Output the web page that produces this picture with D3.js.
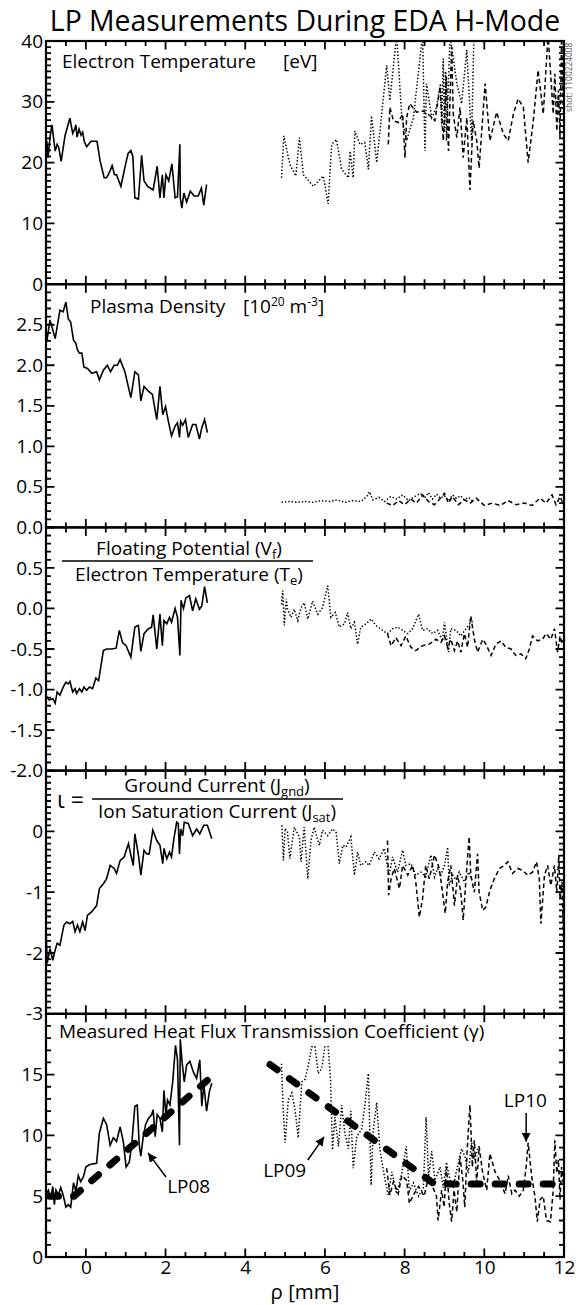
<!DOCTYPE html>
<html>
<head>
<meta charset="utf-8">
<script src="https://cdn.jsdelivr.net/npm/d3@7"></script>
<style>
body { margin: 0; background: #fff; }
svg text { font-family: "Open Sans", sans-serif; fill: #000; }
</style>
</head>
<body>
<div id="chart"></div>
<script>
// 1: DATA  (rho [mm], value); LP08 solid, LP09 dotted, LP10 dashed
const te08 = [[-0.98,23.6],[-0.95,20.8],[-0.90,24.1],[-0.85,26.2],[-0.77,21.9],[-0.72,23.0],[-0.68,22.5],[-0.62,20.2],[-0.52,24.5],[-0.40,27.3],[-0.33,24.8],[-0.28,25.5],[-0.25,26.2],[-0.22,24.2],[-0.17,25.5],[-0.12,24.5],[-0.08,25.0],[-0.04,23.5],[0.02,22.6],[0.13,23.5],[0.28,23.5],[0.36,20.2],[0.46,17.5],[0.52,17.5],[0.60,18.5],[0.66,19.5],[0.72,18.0],[0.77,18.0],[0.88,16.1],[0.99,19.5],[1.06,21.5],[1.13,22.0],[1.18,21.0],[1.23,14.2],[1.32,14.0],[1.40,21.2],[1.46,17.0],[1.55,16.1],[1.69,15.5],[1.79,19.4],[1.86,14.2],[1.92,18.0],[1.96,14.2],[2.01,18.0],[2.08,17.0],[2.16,19.8],[2.24,14.2],[2.30,14.4],[2.36,23.0],[2.37,14.2],[2.41,12.5],[2.46,15.0],[2.53,13.5],[2.62,15.3],[2.72,14.5],[2.82,14.5],[2.90,15.8],[2.96,13.0],[3.03,16.4]];
const te09 = [[4.91,17.5],[4.97,24.4],[5.12,19.7],[5.27,17.8],[5.36,24.1],[5.46,18.0],[5.71,16.1],[5.96,17.8],[6.08,13.2],[6.17,23.0],[6.29,23.8],[6.42,18.9],[6.59,17.5],[6.63,21.9],[6.71,17.5],[6.75,25.2],[6.88,23.0],[7.00,23.3],[7.09,18.9],[7.17,27.7],[7.30,20.0],[7.55,36.0],[7.63,30.2],[7.80,41],[7.93,27.4],[8.05,23.6],[8.22,27.4],[8.45,41],[8.51,21.9],[8.55,33.0],[8.68,27.4],[8.80,29.1],[8.90,33.0],[8.93,26.0],[8.97,37.1],[9.00,25.0],[9.03,35.0],[9.05,23.6],[9.14,41],[9.31,33.0],[9.43,29.7],[9.56,38.5],[9.68,23.6],[9.74,41]];
const te10 = [[7.59,23.0],[7.63,29.1],[7.72,26.9],[7.84,26.6],[7.95,28.0],[8.01,20.8],[8.05,27.4],[8.13,29.7],[8.30,28.3],[8.47,28.5],[8.64,27.7],[8.76,26.9],[8.89,32.4],[8.97,23.6],[9.05,34.1],[9.10,21.9],[9.18,39.1],[9.22,28.0],[9.31,24.1],[9.39,29.1],[9.47,20.8],[9.56,27.4],[9.64,15.5],[9.72,26.9],[9.81,23.6],[9.87,19.1],[10.02,33.0],[10.14,23.6],[10.31,28.3],[10.48,24.7],[10.60,23.6],[10.73,28.0],[10.85,30.5],[10.98,29.1],[11.10,20.0],[11.23,26.9],[11.35,35.2],[11.48,28.0],[11.60,41],[11.73,28.0],[11.77,34.6],[11.82,25.2],[11.86,31.9],[11.90,24.1],[11.94,41],[11.98,29.1]];

const ne08 = [[-0.98,2.29],[-0.90,2.56],[-0.77,2.33],[-0.65,2.68],[-0.57,2.66],[-0.50,2.78],[-0.44,2.57],[-0.38,2.53],[-0.31,2.31],[-0.25,2.27],[-0.21,2.19],[-0.16,2.15],[-0.10,2.15],[-0.05,1.98],[0.04,1.96],[0.15,1.90],[0.27,1.92],[0.34,1.82],[0.44,1.94],[0.54,2.00],[0.62,1.92],[0.71,2.00],[0.79,2.00],[0.86,2.07],[0.98,1.92],[1.13,1.60],[1.23,1.92],[1.32,1.88],[1.38,1.56],[1.46,1.74],[1.57,1.68],[1.67,1.64],[1.78,1.33],[1.86,1.74],[1.93,1.39],[2.00,1.49],[2.07,1.31],[2.15,1.13],[2.24,1.25],[2.30,1.29],[2.35,1.11],[2.38,1.31],[2.43,1.26],[2.50,1.33],[2.57,1.11],[2.68,1.27],[2.76,1.27],[2.85,1.09],[2.91,1.23],[2.98,1.33],[3.05,1.17]];
const ne09 = [[4.91,0.31],[5.10,0.32],[5.30,0.31],[5.50,0.32],[5.70,0.31],[5.90,0.33],[6.10,0.32],[6.30,0.34],[6.50,0.31],[6.70,0.33],[6.90,0.32],[7.05,0.38],[7.12,0.44],[7.20,0.34],[7.35,0.37],[7.50,0.32],[7.65,0.38],[7.80,0.35],[7.95,0.40],[8.10,0.33],[8.25,0.38],[8.40,0.42],[8.50,0.36],[8.60,0.43],[8.70,0.35],[8.80,0.41],[8.90,0.36],[9.00,0.39],[9.10,0.33],[9.20,0.40],[9.30,0.36],[9.40,0.39],[9.50,0.34],[9.60,0.37],[9.70,0.33]];
const ne10 = [[7.55,0.30],[7.70,0.27],[7.85,0.33],[8.00,0.28],[8.15,0.35],[8.30,0.30],[8.45,0.40],[8.60,0.32],[8.75,0.28],[8.90,0.36],[9.00,0.42],[9.10,0.30],[9.20,0.38],[9.35,0.28],[9.50,0.34],[9.65,0.30],[9.80,0.36],[10.00,0.27],[10.20,0.30],[10.40,0.27],[10.60,0.33],[10.80,0.28],[11.00,0.30],[11.20,0.27],[11.40,0.36],[11.55,0.30],[11.70,0.40],[11.80,0.28],[11.90,0.38],[11.97,0.30]];

const vf08 = [[-0.98,-1.09],[-0.92,-1.13],[-0.83,-1.11],[-0.77,-1.17],[-0.72,-1.03],[-0.65,-1.07],[-0.57,-0.97],[-0.50,-0.91],[-0.44,-0.93],[-0.40,-0.90],[-0.33,-1.03],[-0.27,-0.99],[-0.23,-1.05],[-0.16,-0.99],[-0.10,-1.03],[-0.05,-0.97],[0.02,-1.01],[0.09,-0.97],[0.17,-0.99],[0.25,-0.86],[0.32,-0.89],[0.44,-0.52],[0.52,-0.50],[0.65,-0.50],[0.76,-0.49],[0.84,-0.27],[0.92,-0.42],[1.01,-0.46],[1.13,-0.60],[1.23,-0.23],[1.32,-0.21],[1.38,-0.53],[1.46,-0.31],[1.57,-0.25],[1.65,-0.23],[1.69,-0.08],[1.78,-0.50],[1.86,-0.07],[1.92,-0.46],[1.96,-0.15],[2.03,-0.19],[2.10,-0.11],[2.15,-0.17],[2.24,0.00],[2.30,-0.11],[2.36,-0.58],[2.39,0.10],[2.45,0.00],[2.51,0.13],[2.60,0.16],[2.68,-0.03],[2.76,0.12],[2.85,-0.01],[2.91,0.03],[2.98,0.27],[3.05,0.07]];
const vf09 = [[4.91,0.05],[4.94,0.22],[4.98,-0.21],[5.03,0.12],[5.06,-0.01],[5.15,-0.11],[5.23,-0.01],[5.32,-0.15],[5.40,0.01],[5.48,0.07],[5.57,-0.13],[5.69,0.09],[5.82,-0.07],[5.94,0.01],[6.07,0.28],[6.15,-0.11],[6.26,-0.05],[6.36,-0.23],[6.49,-0.19],[6.57,-0.05],[6.65,-0.25],[6.74,-0.17],[6.82,-0.44],[6.90,-0.23],[7.03,-0.19],[7.16,-0.13],[7.28,-0.21],[7.45,-0.27],[7.57,-0.31],[7.70,-0.25],[7.82,-0.23],[7.95,-0.27],[8.08,-0.31],[8.20,-0.25],[8.35,-0.07],[8.45,-0.27],[8.58,-0.25],[8.70,-0.31],[8.83,-0.27],[8.95,-0.40],[9.00,-0.17],[9.10,-0.54],[9.16,-0.25],[9.29,-0.27],[9.41,-0.34],[9.54,-0.25],[9.66,-0.17],[9.75,-0.15]];
const vf10 = [[7.57,-0.31],[7.66,-0.46],[7.78,-0.36],[7.91,-0.46],[8.03,-0.34],[8.16,-0.48],[8.28,-0.52],[8.45,-0.46],[8.62,-0.44],[8.79,-0.38],[8.91,-0.42],[9.00,-0.34],[9.08,-0.48],[9.16,-0.38],[9.25,-0.52],[9.33,-0.40],[9.41,-0.54],[9.50,-0.31],[9.58,-0.48],[9.66,-0.09],[9.75,-0.38],[9.83,-0.54],[9.96,-0.38],[10.04,-0.44],[10.17,-0.58],[10.29,-0.44],[10.42,-0.40],[10.54,-0.48],[10.67,-0.50],[10.79,-0.58],[10.92,-0.56],[11.04,-0.62],[11.13,-0.50],[11.21,-0.34],[11.34,-0.40],[11.46,-0.38],[11.55,-0.31],[11.67,-0.38],[11.76,-0.25],[11.84,-0.54],[11.90,-0.34],[11.97,-0.46]];

const io08 = [[-1.00,-1.60],[-0.97,-2.17],[-0.90,-1.93],[-0.83,-2.12],[-0.77,-1.95],[-0.72,-1.84],[-0.65,-1.87],[-0.55,-1.54],[-0.48,-1.49],[-0.40,-1.52],[-0.33,-1.48],[-0.27,-1.65],[-0.21,-1.54],[-0.15,-1.65],[-0.08,-1.49],[-0.02,-1.63],[0.04,-1.38],[0.15,-1.32],[0.27,-1.22],[0.34,-0.94],[0.44,-0.86],[0.52,-0.78],[0.61,-0.56],[0.71,-0.61],[0.77,-0.69],[0.86,-0.48],[0.96,-0.42],[1.07,-0.20],[1.13,-0.39],[1.19,-0.56],[1.23,-0.04],[1.32,-0.39],[1.38,-0.72],[1.46,-0.31],[1.53,-0.37],[1.59,-0.37],[1.68,0.02],[1.78,-0.15],[1.86,-0.23],[1.93,-0.53],[1.96,-0.28],[2.03,-0.45],[2.10,-0.34],[2.15,-0.42],[2.21,-0.12],[2.28,0.15],[2.32,0.13],[2.35,-0.37],[2.38,0.04],[2.43,-0.07],[2.47,0.15],[2.57,0.13],[2.68,-0.07],[2.78,0.04],[2.86,-0.04],[2.96,0.10],[3.05,0.10],[3.16,-0.12]];
const io09 = [[4.92,0.10],[4.96,-0.48],[5.00,0.05],[5.06,-0.01],[5.12,-0.45],[5.23,0.07],[5.36,-0.09],[5.40,-0.50],[5.48,0.07],[5.57,-0.78],[5.65,-0.15],[5.73,0.07],[5.86,-0.23],[5.94,0.02],[6.07,-0.07],[6.19,0.04],[6.28,-0.01],[6.36,-0.53],[6.45,-0.23],[6.53,-0.26],[6.65,-0.09],[6.74,-0.72],[6.82,-0.34],[6.90,-0.56],[7.03,-0.50],[7.11,-0.56],[7.24,-0.34],[7.36,-0.45],[7.49,-0.28],[7.61,-0.72],[7.70,-0.42],[7.82,-0.67],[7.95,-0.31],[8.03,-0.56],[8.16,-0.53],[8.28,-0.72],[8.41,-0.67],[8.53,-0.75],[8.66,-0.39],[8.75,-0.75],[8.83,-0.61],[8.91,-0.72],[9.00,-0.56],[9.08,-0.26],[9.12,-0.89],[9.21,-0.72],[9.29,-0.80],[9.37,-0.67],[9.50,-0.83],[9.61,-0.67],[9.69,-0.80]];
const io10 = [[7.57,-0.15],[7.60,-1.05],[7.66,-0.78],[7.74,-0.61],[7.87,-0.94],[7.95,-0.56],[8.08,-0.72],[8.20,-0.56],[8.28,-0.83],[8.37,-1.41],[8.45,-1.11],[8.53,-0.56],[8.62,-0.78],[8.75,-0.39],[8.87,-0.61],[8.95,-1.00],[9.02,-1.35],[9.08,-0.83],[9.16,-0.56],[9.25,-1.22],[9.33,-0.72],[9.41,-1.00],[9.47,-1.46],[9.54,-0.78],[9.62,-0.09],[9.66,-0.72],[9.75,-1.00],[9.83,-0.37],[9.87,-1.00],[9.96,-1.30],[10.04,-1.24],[10.14,-0.97],[10.25,-0.78],[10.38,-0.61],[10.50,-0.56],[10.59,-0.50],[10.71,-0.69],[10.84,-0.61],[10.96,-0.64],[11.09,-0.72],[11.21,-0.67],[11.31,-0.50],[11.38,-0.78],[11.42,-1.52],[11.51,-0.72],[11.59,-0.56],[11.67,-0.89],[11.76,-0.56],[11.82,-1.00],[11.87,-0.39],[11.90,-1.11],[11.95,-0.83],[11.99,-1.82]];

const gm08 = [[-1.00,5.1],[-0.94,5.5],[-0.88,4.8],[-0.83,5.8],[-0.79,4.3],[-0.75,5.5],[-0.69,5.1],[-0.63,5.7],[-0.57,5.1],[-0.50,4.1],[-0.44,4.3],[-0.38,4.1],[-0.31,6.1],[-0.25,5.4],[-0.19,6.7],[-0.13,6.2],[-0.06,6.6],[0.00,7.4],[0.10,7.6],[0.27,7.7],[0.34,10.2],[0.44,11.4],[0.52,10.9],[0.61,9.2],[0.69,9.8],[0.77,9.5],[0.86,10.7],[0.94,9.5],[1.01,7.4],[1.09,7.8],[1.15,9.2],[1.23,12.4],[1.29,12.5],[1.34,9.2],[1.38,8.3],[1.44,9.9],[1.50,10.9],[1.57,11.4],[1.65,11.7],[1.69,12.1],[1.74,9.9],[1.79,11.7],[1.86,11.4],[1.92,10.3],[1.96,13.7],[2.01,11.7],[2.05,12.9],[2.11,12.5],[2.18,14.4],[2.25,17.4],[2.30,16.2],[2.35,9.2],[2.37,17.9],[2.42,15.9],[2.47,14.4],[2.53,15.8],[2.61,16.1],[2.70,15.2],[2.78,14.7],[2.86,16.2],[2.91,12.4],[2.96,14.2],[3.03,12.0],[3.10,13.6],[3.16,14.3]];
const gm09 = [[4.91,15.9],[4.95,12.4],[5.00,9.4],[5.08,12.9],[5.17,13.5],[5.25,12.1],[5.33,9.8],[5.42,14.4],[5.50,14.6],[5.58,15.7],[5.67,17.3],[5.75,17.3],[5.83,15.1],[5.92,15.5],[6.00,17.3],[6.08,17.3],[6.14,14.6],[6.19,8.8],[6.25,11.5],[6.34,9.1],[6.42,12.5],[6.50,10.2],[6.59,8.9],[6.65,12.0],[6.71,7.3],[6.80,9.9],[6.92,10.5],[7.00,12.4],[7.09,15.1],[7.16,5.9],[7.21,10.3],[7.30,12.7],[7.38,8.8],[7.51,6.3],[7.59,5.1],[7.68,7.0],[7.80,5.2],[7.93,6.9],[8.04,9.1],[8.12,5.4],[8.22,6.1],[8.35,5.0],[8.47,5.7],[8.54,11.5],[8.60,6.6],[8.68,8.7],[8.76,6.3],[8.89,7.4],[8.97,5.7],[9.05,7.8],[9.14,6.3],[9.22,5.8],[9.31,7.2],[9.43,8.9],[9.51,8.3],[9.60,6.9],[9.68,9.4],[9.76,8.0],[9.85,9.1]];
const gm10 = [[7.55,7.3],[7.63,5.1],[7.72,6.2],[7.84,5.2],[7.93,6.7],[8.05,6.3],[8.12,4.4],[8.22,5.1],[8.35,5.8],[8.49,5.0],[8.60,6.6],[8.70,5.8],[8.80,5.0],[8.84,3.0],[8.93,5.5],[8.99,4.1],[9.05,7.4],[9.12,4.4],[9.18,2.9],[9.24,5.5],[9.31,3.7],[9.39,8.3],[9.46,6.3],[9.51,4.1],[9.57,8.8],[9.64,12.5],[9.70,7.4],[9.75,9.6],[9.81,6.1],[9.87,9.1],[9.96,6.9],[10.06,5.5],[10.14,8.5],[10.27,7.0],[10.39,6.3],[10.52,5.2],[10.60,6.7],[10.69,5.2],[10.77,5.5],[10.88,5.0],[10.98,5.5],[11.05,7.4],[11.10,9.4],[11.19,6.6],[11.27,5.0],[11.33,2.9],[11.40,4.7],[11.48,5.0],[11.56,3.0],[11.66,2.9],[11.73,5.5],[11.77,9.6],[11.82,6.9],[11.86,8.0],[11.90,4.7],[11.94,7.4],[11.98,6.1]];

// model fits drawn as thick dashes in the gamma panel
const fit08 = [[-1,5],[-0.3,5],[3.25,15.1]];
const fit10 = [[4.55,16],[8.75,6],[12,6]];

// probe annotations in gamma panel: label position and arrow tail -> head
const probeNames = ["LP08", "LP09", "LP10"];
const probeLabelPos = [[2.04,5.27],[4.45,6.58],[10.49,12.35]];
const probeArrows = [[[2.01,6.58],[1.56,8.56]],[[5.57,7.98],[5.98,9.88]],[[11.05,11.85],[11.05,9.47]]];

// y tick labels per panel
const teTicks = [0,10,20,30,40];
const neTicks = [0,0.5,1,1.5,2,2.5];
const vfTicks = [-2,-1.5,-1,-0.5,0,0.5];
const ioTicks = [-3,-2,-1,0];
const gmTicks = [0,5,10,15];
const xTicks = [0,2,4,6,8,10,12];

// 2: LAYOUT
const W = 576, H = 1305;
const margin = { top: 41, right: 12, bottom: 48, left: 46 };
const width = W - margin.left - margin.right;
const plotH = H - margin.top - margin.bottom;
const panelH = plotH / 5;

const svg = d3.select("#chart")
    .append("svg")
    .attr("width", W)
    .attr("height", H);

const x = d3.scaleLinear().domain([-1, 12]).range([0, width]);

const lineStyles = [
    { dash: null, w: 1.6 },
    { dash: "1.4,2", w: 1.5 },
    { dash: "4.5,3", w: 1.5 }
];

const panels = [
    { series: [te08, te09, te10], domain: [0, 40], ticks: teTicks, minor: 1, fmt: d => String(d) },
    { series: [ne08, ne09, ne10], domain: [0, 3], ticks: neTicks, minor: 0.1, fmt: d => d.toFixed(1) },
    { series: [vf08, vf09, vf10], domain: [-2, 1], ticks: vfTicks, minor: 0.1, fmt: d => d.toFixed(1) },
    { series: [io08, io09, io10], domain: [-3, 1], ticks: ioTicks, minor: 0.1, fmt: d => String(d) },
    { series: [gm08, gm09, gm10], domain: [0, 20], ticks: gmTicks, minor: 1, fmt: d => String(d) }
];

const xMajor = [0, 2, 4, 6, 8, 10];
const xMinor = d3.range(-0.5, 12, 0.5);

// Title
svg.append("text")
    .attr("x", 305)
    .attr("y", 31)
    .attr("text-anchor", "middle")
    .style("font-size", "28.4px")
    .text("LP Measurements During EDA H-Mode");

// inward tick marks along one side, built as one path
function tickPath(values, scale, side, len) {
    const tp = d3.path();
    values.forEach(v => {
        const s = scale(v);
        if (side === "left") { tp.moveTo(0, s); tp.lineTo(len, s); }
        if (side === "right") { tp.moveTo(width, s); tp.lineTo(width - len, s); }
        if (side === "top") { tp.moveTo(s, 0); tp.lineTo(s, len); }
        if (side === "bottom") { tp.moveTo(s, panelH); tp.lineTo(s, panelH - len); }
    });
    return tp.toString();
}

const yScales = [];

panels.forEach((cfg, i) => {
    const g = svg.append("g")
        .attr("transform", `translate(${margin.left},${margin.top + i * panelH})`);

    const y = d3.scaleLinear().domain(cfg.domain).range([panelH, 0]);
    yScales.push({ g, y, cfg });

    g.append("clipPath").attr("id", "clip" + i)
        .append("rect").attr("width", width).attr("height", panelH);

    const line = d3.line().x(d => x(d[0])).y(d => y(d[1]));

    const plot = g.append("g").attr("clip-path", `url(#clip${i})`);
    cfg.series.forEach((s, k) => {
        plot.append("path")
            .datum(s)
            .attr("fill", "none")
            .attr("stroke", "#000")
            .attr("stroke-width", lineStyles[k].w)
            .attr("stroke-dasharray", lineStyles[k].dash)
            .attr("d", line);
    });

    // frame
    g.append("rect")
        .attr("width", width)
        .attr("height", panelH)
        .attr("fill", "none")
        .attr("stroke", "#000")
        .attr("stroke-width", 2.2);

    // y tick labels
    const ya = g.append("g")
        .call(d3.axisLeft(y).tickValues(cfg.ticks).tickSize(0).tickPadding(3).tickFormat(cfg.fmt));
    ya.select(".domain").remove();
    ya.selectAll("text").style("font-size", "19px").attr("fill", "#000");

    if (i === panels.length - 1) {
        const xa = g.append("g")
            .attr("transform", `translate(0,${panelH})`)
            .call(d3.axisBottom(x).tickValues(xTicks).tickSize(0).tickPadding(3).tickFormat(d => String(d)));
        xa.select(".domain").remove();
        xa.selectAll("text").style("font-size", "19px").attr("fill", "#000");
    }
});

// 3: PANEL LABELS
const fs = "19px";
const g0 = yScales[0].g, g1 = yScales[1].g, g2 = yScales[2].g, g3 = yScales[3].g, g4 = yScales[4].g;

g0.append("text").attr("x", 16).attr("y", 27).style("font-size", fs).text("Electron Temperature");
g0.append("text").attr("x", 237).attr("y", 27).style("font-size", fs).text("[eV]");

g1.append("text").attr("x", 44).attr("y", 29).style("font-size", fs).text("Plasma Density");
const nl = g1.append("text").attr("x", 197).attr("y", 29).style("font-size", fs);
nl.append("tspan").text("[10");
nl.append("tspan").attr("dy", -7).style("font-size", "12px").text("20");
nl.append("tspan").attr("dy", 7).text(" m");
nl.append("tspan").attr("dy", -7).style("font-size", "12px").text("-3");
nl.append("tspan").attr("dy", 7).text("]");

function fraction(g, cx, yNum, yLine, yDen, x0, x1, num, numSub, den, denSub) {
    const t1 = g.append("text").attr("x", cx).attr("y", yNum).attr("text-anchor", "middle").style("font-size", fs);
    t1.append("tspan").text(num);
    t1.append("tspan").attr("dy", 4).style("font-size", "13px").text(numSub);
    t1.append("tspan").attr("dy", -4).text(")");
    g.append("line").attr("x1", x0).attr("x2", x1).attr("y1", yLine).attr("y2", yLine)
        .attr("stroke", "#000").attr("stroke-width", 1.4);
    const t2 = g.append("text").attr("x", cx).attr("y", yDen).attr("text-anchor", "middle").style("font-size", fs);
    t2.append("tspan").text(den);
    t2.append("tspan").attr("dy", 4).style("font-size", "13px").text(denSub);
    t2.append("tspan").attr("dy", -4).text(")");
}

fraction(g2, 143, 27.6, 33.6, 53.6, 16, 267,
    "Floating Potential (V", "f", "Electron Temperature (T", "e");

g3.append("text").attr("x", 11).attr("y", 37).style("font-size", "23px").text("\u03b9 =");
fraction(g3, 171, 21.4, 28.4, 47.4, 46, 297,
    "Ground Current (J", "gnd", "Ion Saturation Current (J", "sat");

g4.append("text").attr("x", 13).attr("y", 24.2).style("font-size", fs)
    .text("Measured Heat Flux Transmission Coefficient (\u03b3)");

// shot number
svg.append("text")
    .attr("transform", "translate(572,112) rotate(-90)")
    .style("font-size", "8.4px")
    .style("fill", "#555")
    .text("shot: 1100224008");

// 4: FITS + ANNOTATIONS in the gamma panel
const yg = yScales[4].y;
const gLine = d3.line().x(d => x(d[0])).y(d => yg(d[1]));
const fitLayer = g4.append("g").attr("clip-path", "url(#clip4)");
[fit08, fit10].forEach(f => {
    fitLayer.append("path")
        .datum(f)
        .attr("fill", "none")
        .attr("stroke", "#000")
        .attr("stroke-width", 7)
        .attr("stroke-linecap", "round")
        .attr("stroke-dasharray", "9,15")
        .attr("stroke-dashoffset", -3.5)
        .attr("d", gLine);
});

svg.append("defs").append("marker")
    .attr("id", "arrow")
    .attr("viewBox", "0 0 10 10")
    .attr("refX", 10).attr("refY", 5)
    .attr("markerWidth", 9).attr("markerHeight", 9)
    .attr("markerUnits", "userSpaceOnUse")
    .attr("orient", "auto")
    .append("path").attr("d", "M0,0L10,5L0,10z").attr("fill", "#000");

probeNames.forEach((name, k) => {
    g4.append("text")
        .attr("x", x(probeLabelPos[k][0]))
        .attr("y", yg(probeLabelPos[k][1]))
        .style("font-size", fs)
        .text(name);
    const [a, b] = probeArrows[k];
    g4.append("line")
        .attr("x1", x(a[0])).attr("y1", yg(a[1]))
        .attr("x2", x(b[0])).attr("y2", yg(b[1]))
        .attr("stroke", "#000").attr("stroke-width", 1.5)
        .attr("marker-end", "url(#arrow)");
});

// x axis label
svg.append("text")
    .attr("x", 305)
    .attr("y", 1299)
    .attr("text-anchor", "middle")
    .style("font-size", "20.5px")
    .text("\u03c1 [mm]");

// 5: TICK MARKS, drawn last on top of everything (inward on all four sides)
const tickLayer = svg.append("g").attr("class", "tick-layer");
yScales.forEach(({ y, cfg }, i) => {
    const yMinor = d3.range(cfg.domain[0], cfg.domain[1] + 1e-6, cfg.minor).map(v => +v.toFixed(4));
    const yMajor = cfg.ticks.concat([cfg.domain[1]]);
    const spec = [
        [yMinor, y, "left", 5], [yMajor, y, "left", 8.5],
        [yMinor, y, "right", 5], [yMajor, y, "right", 8.5],
        [xMinor, x, "top", 5], [xMajor, x, "top", 8.5],
        [xMinor, x, "bottom", 5], [xMajor, x, "bottom", 8.5]
    ];
    tickLayer.append("path")
        .attr("transform", `translate(${margin.left},${margin.top + i * panelH})`)
        .attr("d", spec.map(t => tickPath(t[0], t[1], t[2], t[3])).join(""))
        .style("fill", "none")
        .style("stroke", "#000")
        .style("stroke-width", "1.8px");
});
</script>
</body>
</html>
